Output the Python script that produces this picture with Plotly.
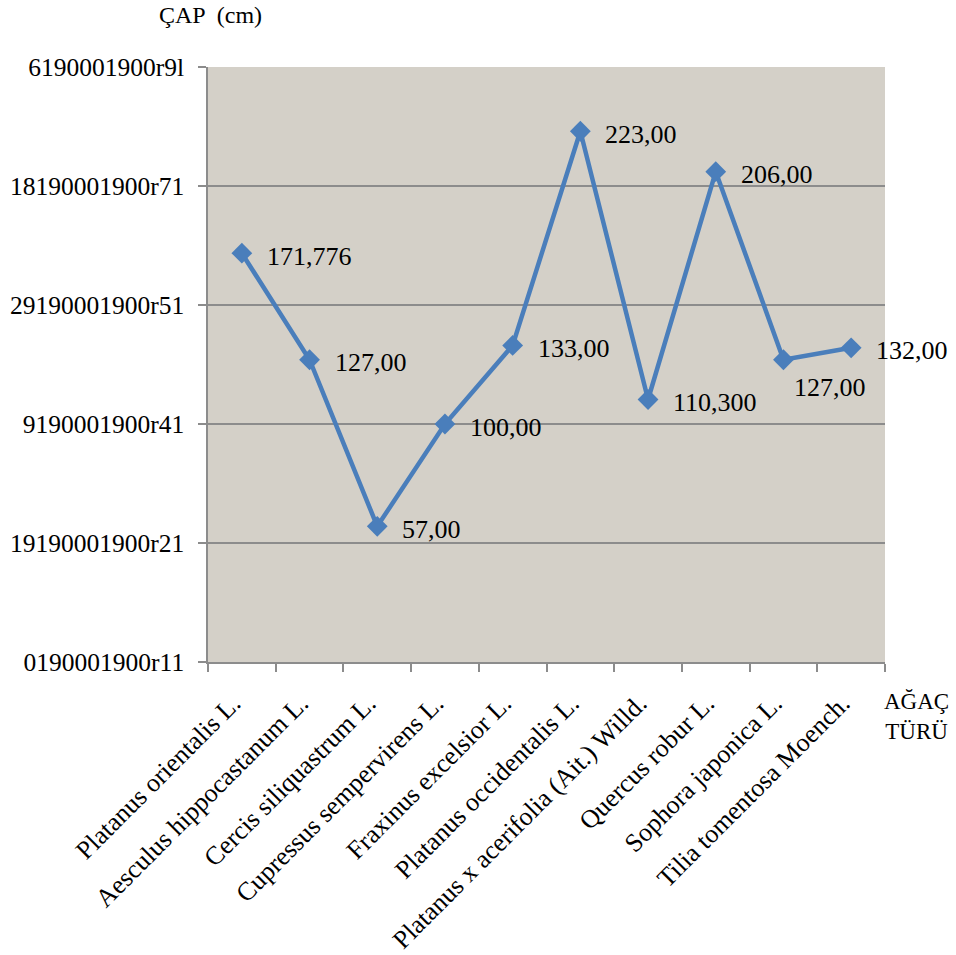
import plotly.graph_objects as go

# Tree species and measured trunk diameters
species = [
    "Platanus orientalis L.",
    "Aesculus hippocastanum L.",
    "Cercis siliquastrum L.",
    "Cupressus sempervirens L.",
    "Fraxinus excelsior L.",
    "Platanus occidentalis L.",
    "Platanus x acerifolia (Ait.) Willd.",
    "Quercus robur L.",
    "Sophora japonica L.",
    "Tilia tomentosa Moench.",
]
diameters = [171.776, 127, 57, 100, 133, 223, 110.3, 206, 127, 132]
value_labels = ["171,776", "127,00", "57,00", "100,00", "133,00",
                "223,00", "110,300", "206,00", "127,00", "132,00"]

y_tick_vals = [0, 50, 100, 150, 200, 250]
y_tick_text = ["0190001900r11", "19190001900r21", "9190001900r41",
               "29190001900r51", "18190001900r71", "6190001900r9l"]

FONT = "Liberation Serif"
LINE_COLOR = "#4A7EBB"
GRID = "#8C8C8C"

fig = go.Figure()
fig.add_trace(go.Scatter(
    x=species, y=diameters,
    mode="lines+markers",
    line=dict(color=LINE_COLOR, width=4.5),
    marker=dict(symbol="diamond", size=16, color=LINE_COLOR),
    showlegend=False,
    hoverinfo="skip",
))

# value labels beside each point
for i, (name, val, txt) in enumerate(zip(species, diameters, value_labels)):
    xs, ys = 23, -3
    if i == 8:
        xs, ys = 9, -28
    fig.add_annotation(
        x=name, y=val, text=txt, showarrow=False,
        xanchor="left", yanchor="middle", xshift=xs, yshift=ys,
        font=dict(family=FONT, size=26, color="black"),
    )

fig.add_annotation(
    x=0.004, y=1.087, xref="paper", yref="paper", text="ÇAP  (cm)",
    showarrow=False, xanchor="center", yanchor="middle",
    font=dict(family=FONT, size=24, color="black"),
)
fig.add_annotation(
    x=1.046, y=-0.091, xref="paper", yref="paper", text="AĞAÇ<br>TÜRÜ",
    showarrow=False, xanchor="center", yanchor="middle", align="center",
    font=dict(family=FONT, size=23, color="black"),
)

fig.update_layout(
    width=956, height=955,
    margin=dict(l=208, r=71, t=67, b=293),
    paper_bgcolor="white",
    plot_bgcolor="#D4D0C8",
    font=dict(family=FONT, size=26, color="black"),
)
fig.update_xaxes(
    type="category", range=[-0.5, 9.5], automargin=False,
    showgrid=False, showline=True, linecolor=GRID, linewidth=1.5,
    ticks="outside", tickson="boundaries", ticklen=8, tickcolor=GRID, tickwidth=1.5,
    tickangle=-45, ticklabelstandoff=14, ticklabelshift=-9,
    tickfont=dict(family=FONT, size=26, color="black"),
)
fig.update_yaxes(
    range=[0, 250], tickvals=y_tick_vals, ticktext=y_tick_text, automargin=False,
    showgrid=True, gridcolor=GRID, gridwidth=1.5,
    showline=True, linecolor=GRID, linewidth=1.5,
    ticks="outside", ticklen=8, tickcolor=GRID, tickwidth=1.5,
    ticklabelstandoff=9, zeroline=False,
    tickfont=dict(family=FONT, size=25.5, color="black"),
)

fig.write_html("out.html")
